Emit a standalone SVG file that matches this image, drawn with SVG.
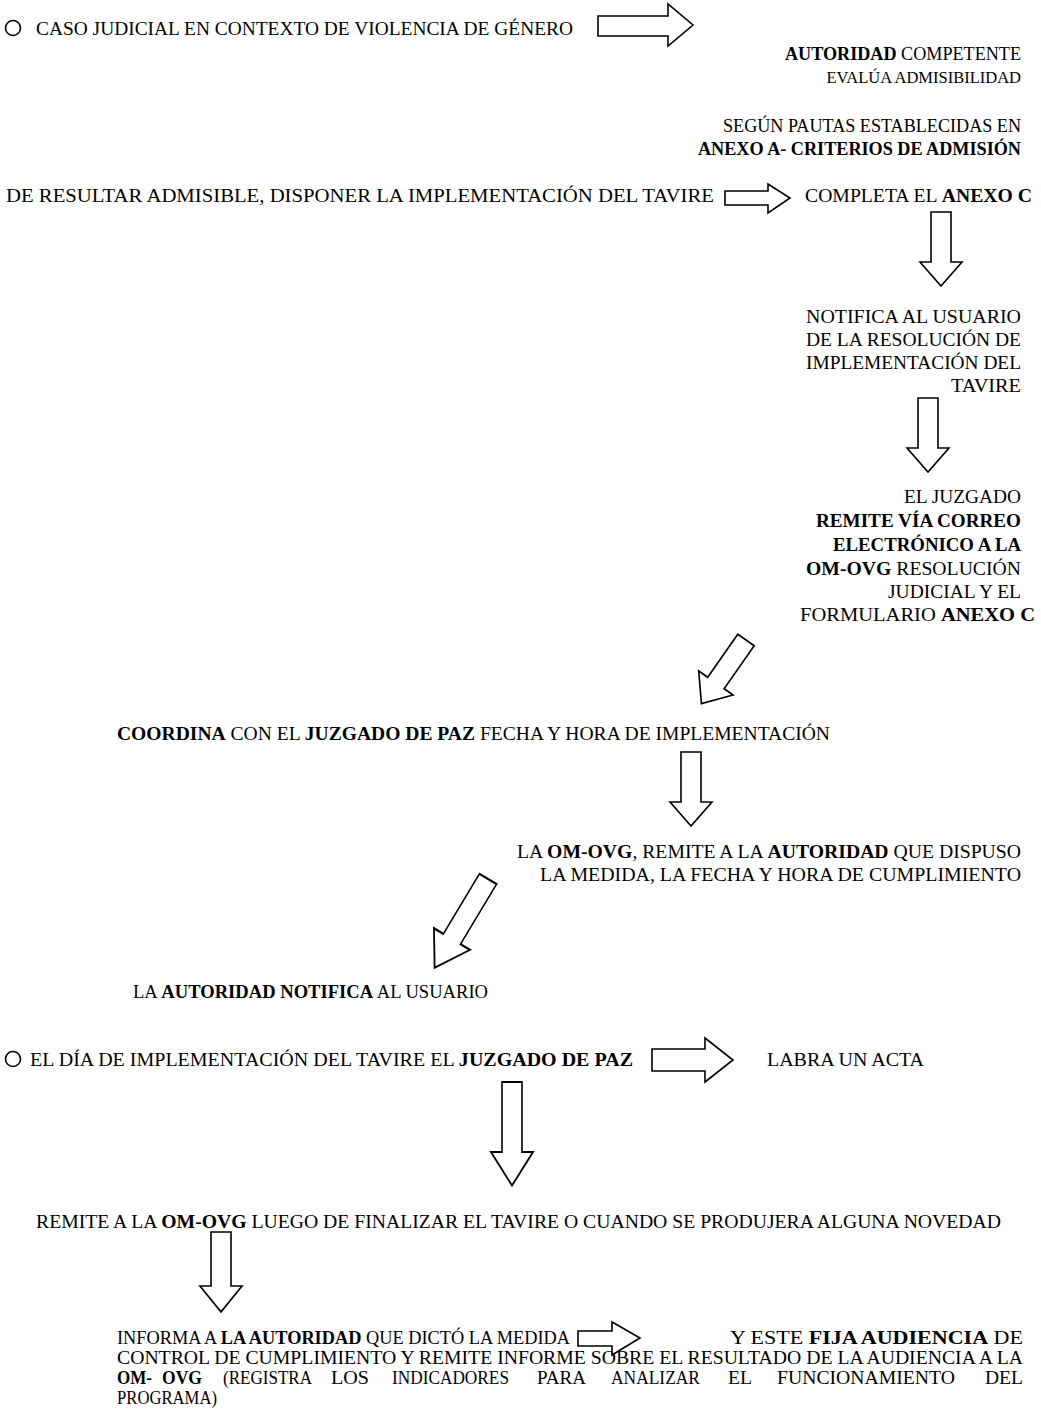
<svg xmlns="http://www.w3.org/2000/svg" width="1041" height="1412" viewBox="0 0 1041 1412">
<style>
text{font-family:"Liberation Serif","Times New Roman",serif;font-size:18.5px;fill:#000}
.s{font-size:18px}
.b{font-weight:bold}
.arr{fill:#fff;stroke:#000;stroke-width:1.6;stroke-linejoin:miter}
.dot{fill:none;stroke:#000;stroke-width:1.6}
</style>
<defs>
<polygon id="darr" points="-10,0 10,0 10,50 21,50 0,74 -21,50 -10,50"/>
</defs>
<rect width="1041" height="1412" fill="#fff"/>

<g id="n1">
<circle class="dot" cx="13" cy="28" r="7.5"/>
<text x="36" y="35" textLength="537" lengthAdjust="spacingAndGlyphs">CASO JUDICIAL EN CONTEXTO DE VIOLENCIA DE GÉNERO</text>
</g>
<g id="n2">
<text x="785" y="60" textLength="236" lengthAdjust="spacingAndGlyphs"><tspan class="b">AUTORIDAD</tspan> COMPETENTE</text>
<text x="1021" y="83" style="font-size:16.5px" text-anchor="end">EVALÚA ADMISIBILIDAD</text>
</g>
<g id="n3">
<text x="723" y="132" textLength="298" lengthAdjust="spacingAndGlyphs">SEGÚN PAUTAS ESTABLECIDAS EN</text>
<text x="698" y="155" class="b" textLength="323" lengthAdjust="spacingAndGlyphs">ANEXO A- CRITERIOS DE ADMISIÓN</text>
</g>
<g id="n4">
<text x="6" y="202" textLength="708" lengthAdjust="spacingAndGlyphs">DE RESULTAR ADMISIBLE, DISPONER LA IMPLEMENTACIÓN DEL TAVIRE</text>
</g>
<g id="n5">
<text x="805" y="202" textLength="227" lengthAdjust="spacingAndGlyphs">COMPLETA EL <tspan class="b">ANEXO C</tspan></text>
</g>
<g id="n6">
<text x="806" y="323" textLength="215" lengthAdjust="spacingAndGlyphs">NOTIFICA AL USUARIO</text>
<text x="806" y="346" textLength="215" lengthAdjust="spacingAndGlyphs">DE LA RESOLUCIÓN DE</text>
<text x="806" y="369" textLength="215" lengthAdjust="spacingAndGlyphs">IMPLEMENTACIÓN DEL</text>
<text x="951" y="392" textLength="70" lengthAdjust="spacingAndGlyphs">TAVIRE</text>
</g>
<g id="n7">
<text x="904" y="503" textLength="117" lengthAdjust="spacingAndGlyphs">EL JUZGADO</text>
<text x="816" y="527" class="b" textLength="205" lengthAdjust="spacingAndGlyphs">REMITE VÍA CORREO</text>
<text x="833" y="551" class="b" textLength="188" lengthAdjust="spacingAndGlyphs">ELECTRÓNICO A LA</text>
<text x="806" y="575" textLength="215" lengthAdjust="spacingAndGlyphs"><tspan class="b">OM-OVG</tspan> RESOLUCIÓN</text>
<text x="888" y="598" textLength="133" lengthAdjust="spacingAndGlyphs">JUDICIAL Y EL</text>
<text x="800" y="621" textLength="235" lengthAdjust="spacingAndGlyphs">FORMULARIO <tspan class="b">ANEXO C</tspan></text>
</g>
<g id="n8">
<text x="117" y="740" textLength="713" lengthAdjust="spacingAndGlyphs"><tspan class="b">COORDINA</tspan> CON EL <tspan class="b">JUZGADO DE PAZ</tspan> FECHA Y HORA DE IMPLEMENTACIÓN</text>
</g>
<g id="n9">
<text x="517" y="858" textLength="504" lengthAdjust="spacingAndGlyphs">LA <tspan class="b">OM-OVG</tspan>, REMITE A LA <tspan class="b">AUTORIDAD</tspan> QUE DISPUSO</text>
<text x="540" y="881" textLength="481" lengthAdjust="spacingAndGlyphs">LA MEDIDA, LA FECHA Y HORA DE CUMPLIMIENTO</text>
</g>
<g id="n10">
<text x="133" y="998" textLength="355" lengthAdjust="spacingAndGlyphs">LA <tspan class="b">AUTORIDAD NOTIFICA</tspan> AL USUARIO</text>
</g>
<g id="n11">
<circle class="dot" cx="13" cy="1059" r="7.5"/>
<text x="30" y="1066" textLength="603" lengthAdjust="spacingAndGlyphs">EL DÍA DE IMPLEMENTACIÓN DEL TAVIRE EL <tspan class="b">JUZGADO DE PAZ</tspan></text>
</g>
<g id="n12">
<text x="767" y="1066" textLength="157" lengthAdjust="spacingAndGlyphs">LABRA UN ACTA</text>
</g>
<g id="n13">
<text x="36" y="1228" textLength="965" lengthAdjust="spacingAndGlyphs">REMITE A LA <tspan class="b">OM-OVG</tspan> LUEGO DE FINALIZAR EL TAVIRE O CUANDO SE PRODUJERA ALGUNA NOVEDAD</text>
</g>
<g id="n14">
<text class="s" x="117" y="1344" textLength="453" lengthAdjust="spacingAndGlyphs">INFORMA A <tspan class="b">LA AUTORIDAD</tspan> QUE DICTÓ LA MEDIDA</text>
</g>
<g id="n15">
<text class="s" x="730" y="1344" textLength="293" lengthAdjust="spacingAndGlyphs">Y ESTE <tspan class="b">FIJA AUDIENCIA</tspan> DE</text>
<text class="s" x="117" y="1364" textLength="906" lengthAdjust="spacingAndGlyphs">CONTROL DE CUMPLIMIENTO Y REMITE INFORME SOBRE EL RESULTADO DE LA AUDIENCIA A LA</text>
<text class="s b" x="117" y="1384" textLength="35" lengthAdjust="spacingAndGlyphs">OM-</text>
<text class="s b" x="162" y="1384" textLength="40" lengthAdjust="spacingAndGlyphs">OVG</text>
<text class="s" x="223" y="1384" textLength="89" lengthAdjust="spacingAndGlyphs">(REGISTRA</text>
<text class="s" x="331" y="1384" textLength="38" lengthAdjust="spacingAndGlyphs">LOS</text>
<text class="s" x="392" y="1384" textLength="117" lengthAdjust="spacingAndGlyphs">INDICADORES</text>
<text class="s" x="537" y="1384" textLength="49" lengthAdjust="spacingAndGlyphs">PARA</text>
<text class="s" x="611" y="1384" textLength="89" lengthAdjust="spacingAndGlyphs">ANALIZAR</text>
<text class="s" x="728" y="1384" textLength="24" lengthAdjust="spacingAndGlyphs">EL</text>
<text class="s" x="777" y="1384" textLength="178" lengthAdjust="spacingAndGlyphs">FUNCIONAMIENTO</text>
<text class="s" x="985" y="1384" textLength="38" lengthAdjust="spacingAndGlyphs">DEL</text>
<text class="s" x="117" y="1404" textLength="100" lengthAdjust="spacingAndGlyphs">PROGRAMA)</text>
</g>

<g id="connectors">
<polygon class="arr" points="598,16 668,16 668,4 693,25 668,46 668,36 598,36"/>
<polygon class="arr" points="725,191 768,191 768,184 790,198 768,213 768,205 725,205"/>
<use href="#darr" class="arr" transform="translate(941,212)"/>
<use href="#darr" class="arr" transform="translate(928,398)"/>
<use href="#darr" class="arr" transform="translate(746,640) rotate(35) scale(1,1.05)"/>
<use href="#darr" class="arr" transform="translate(691,752)"/>
<use href="#darr" class="arr" transform="translate(488,879) rotate(31) scale(1,1.4)"/>
<polygon class="arr" points="652,1049 705,1049 705,1038 733,1060 705,1082 705,1071 652,1071"/>
<use href="#darr" class="arr" transform="translate(512,1082) scale(1,1.4)"/>
<use href="#darr" class="arr" transform="translate(221,1232) scale(1,1.08)"/>
<polygon class="arr" points="578,1331 612,1331 612,1322 640,1338 612,1355 612,1346 578,1346"/>
</g>
</svg>
